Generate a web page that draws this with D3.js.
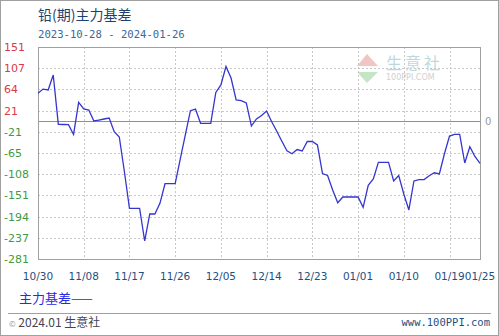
<!DOCTYPE html>
<html><head><meta charset="utf-8">
<script src="https://cdn.jsdelivr.net/npm/d3@7/dist/d3.min.js"></script>
<style>
html,body{margin:0;padding:0;background:#fff;}
svg{display:block;}
</style></head>
<body>
<script>
// ---- data ----
const startDate = "2023-10-30";
const values = [
  56.7, 65.2, 63.4, 93.9, -6.5, -6.9, -7.3,
  -27.2, 38.3, 24.7, 22.6, 0.2, 2.2, 4.3,
  6.3, -21.6, -32.4, -102.7, -177.7, -177.7, -177.7,
  -244.3, -189.3, -189.3, -167.5, -127.6, -127.6, -127.6,
  -77.4, -28.1, 21.2, 24.5, -4.5, -4.5, -4.5,
  58.3, 73.6, 111.3, 87.8, 43.0, 41.6, 37.0,
  -10.0, 4.3, 11.4, 20.6, -1.2, -20.6, -40.9,
  -60.5, -66.6, -57.9, -60.9, -41.6, -41.6, -48.7,
  -106.8, -110.8, -140.4, -166.3, -154.7, -154.7, -154.7,
  -154.7, -175.6, -130.8, -118.0, -84.0, -84.0, -84.0,
  -122.0, -110.8, -148.5, -181.1, -122.0, -119.2, -119.2,
  -111.3, -105.3, -107.8, -66.6, -30.4, -26.9, -27.0,
  -85.4, -52.2, -72.1, -86.0
];
const xTickLabels = ["10/30","11/08","11/17","11/26","12/05","12/14","12/23","01/01","01/10","01/19","01/25"];
const xTickDates = ["2023-10-30","2023-11-08","2023-11-17","2023-11-26","2023-12-05","2023-12-14","2023-12-23","2024-01-01","2024-01-10","2024-01-19","2024-01-25"];
const yTickLabels = ["151","107","64","21","-21","-65","-108","-151","-194","-237","-281"];
const yMax = 151, yMin = -281;
const title = "铅(期)主力基差";
const subtitle = "2023-10-28 - 2024-01-26";
const legendLabel = "主力基差——";

// ---- chart ----
const W = 499, H = 336;
const L = 38, R = 480, T = 47, B = 259;
const parse = d3.timeParse("%Y-%m-%d");
const t0 = parse(startDate);
const data = values.map((v, i) => ({date: d3.timeDay.offset(t0, i), v}));

const x = d3.scaleTime().domain([t0, parse(xTickDates[xTickDates.length-1])]).range([L, R]);
const y = d3.scaleLinear().domain([yMin, yMax]).range([B, T]);
const yTickVals = yTickLabels.map((_, i) => yMax - i * (yMax - yMin) / (yTickLabels.length - 1));

const svg = d3.select("body").append("svg").attr("width", W).attr("height", H);
svg.append("rect").attr("x",0.5).attr("y",0.5).attr("width",W-1).attr("height",H-1)
  .attr("fill","#fff").attr("stroke","#a0a0a0");

// title
svg.append("text").attr("x",38).attr("y",20).attr("fill","#1f3f73")
  .attr("font-family","'Noto Sans CJK SC',sans-serif").attr("font-size",14).text(title);
svg.append("text").attr("x",38).attr("y",38).attr("fill","#3a6a9a")
  .attr("font-family","'DejaVu Sans Mono',monospace").attr("font-size",10.6).text(subtitle);

// watermark
const wm = svg.append("g").attr("opacity",0.4);
wm.append("path").attr("d","M357,66 L367,54 L378,66 Z").attr("fill","#e07070");
wm.append("path").attr("d","M357,72 L367,83 L378,72 Z").attr("fill","#70c070");
wm.append("text").attr("x",386).attr("y",69).attr("font-size",16).attr("fill","#5aa0b0")
  .attr("letter-spacing",3).attr("font-family","'Noto Sans CJK SC',sans-serif").text("生意社");
wm.append("text").attr("x",386).attr("y",80).attr("font-size",8).attr("fill","#888")
  .attr("font-family","DejaVu Sans").text("100PPI.COM");

// grid
const g = svg.append("g");
g.selectAll("line.hg").data(yTickVals.slice(1, -1)).join("line")
  .attr("x1",L).attr("x2",R).attr("y1",d=>Math.round(y(d))+0.5).attr("y2",d=>Math.round(y(d))+0.5)
  .attr("stroke","#c8c8c8").attr("stroke-dasharray","2,2");
g.selectAll("line.vg").data(xTickDates.slice(1, -1)).join("line")
  .attr("y1",T).attr("y2",B).attr("x1",d=>Math.round(x(parse(d)))+0.5).attr("x2",d=>Math.round(x(parse(d)))+0.5)
  .attr("stroke","#c8c8c8").attr("stroke-dasharray","2,2");
// zero line
g.append("line").attr("x1",L).attr("x2",R).attr("y1",Math.round(y(0))+0.5).attr("y2",Math.round(y(0))+0.5)
  .attr("stroke","#909090");
svg.append("text").attr("x",485).attr("y",y(0)+4).attr("font-size",10).attr("fill","#999")
  .attr("font-family","DejaVu Sans").text("0");

// border
svg.append("rect").attr("x",L+0.5).attr("y",T+0.5).attr("width",R-L).attr("height",B-T)
  .attr("fill","none").attr("stroke","#a0a0a0");

// y labels
svg.selectAll("text.yl").data(yTickVals).join("text")
  .attr("x",4).attr("y",d=>y(d)+4).attr("font-size",11)
  .attr("font-family","'DejaVu Sans',sans-serif")
  .attr("fill",(d,i)=>+yTickLabels[i] > 0 ? "#d83a4a" : "#3f9a3f")
  .text((d,i)=>yTickLabels[i]);

// x labels
svg.selectAll("text.xl").data(xTickDates).join("text")
  .attr("x",d=>x(parse(d))).attr("y",280).attr("text-anchor","middle")
  .attr("font-size",10.5).attr("font-family","'DejaVu Sans',sans-serif").attr("fill","#1f4f7f")
  .text((d,i)=>xTickLabels[i]);

// line
svg.append("path").datum(data)
  .attr("d", d3.line().x(d=>x(d.date)).y(d=>y(d.v)))
  .attr("fill","none").attr("stroke","#3535d0").attr("stroke-width",1.3);

// legend
svg.append("text").attr("x",19).attr("y",303).attr("fill","#2a2ae0")
  .attr("font-family","'Noto Sans CJK SC',sans-serif").attr("font-size",13).text(legendLabel);

// footer
svg.append("line").attr("x1",8).attr("x2",491).attr("y1",313.5).attr("y2",313.5).attr("stroke","#a0a0a0");
svg.append("text").attr("x",9).attr("y",327).attr("fill","#445")
  .attr("font-size",12).attr("font-family","'Noto Sans CJK SC',sans-serif")
  .html('<tspan font-size="8" fill="#999">©</tspan> 2024.01 生意社');
svg.append("text").attr("x",490).attr("y",326).attr("text-anchor","end").attr("fill","#1f4f7f")
  .attr("font-size",10.5).attr("font-family","'DejaVu Sans Mono',monospace").text("www.100PPI.com");
</script>
</body></html>
